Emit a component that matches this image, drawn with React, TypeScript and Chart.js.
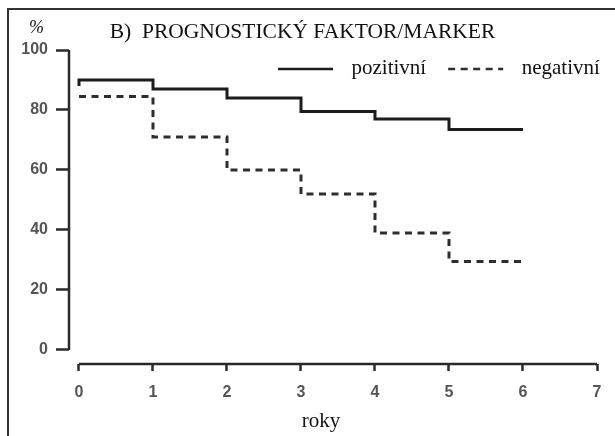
import React, { useEffect, useRef } from "react";
import { Chart, registerables } from "chart.js";

Chart.register(...registerables);

// ---- data ----
const positiveYears = [0, 0, 1, 2, 3, 4, 5, 6];
const positiveValues = [88, 90, 87, 84, 79.5, 77, 73.5, 73.5];
const negativeYears = [0, 1, 2, 3, 4, 5, 6];
const negativeValues = [84.5, 71, 60, 52, 39, 29.5, 29.5];
const xTickValues = [0, 1, 2, 3, 4, 5, 6, 7];
const yTickValues = [0, 20, 40, 60, 80, 100];
const seriesLabels = ["pozitivní", "negativní"];
const titleText = "B)  PROGNOSTICKÝ FAKTOR/MARKER";
const xAxisTitle = "roky";
const yAxisTitle = "%";

const SERIF = '"Liberation Serif", "Times New Roman", serif';
const SANS = '"Liberation Sans", Arial, sans-serif';

const axesPlugin = {
  id: "axesLines",
  afterDraw(chart: any) {
    const { ctx, chartArea } = chart;
    const xs = chart.scales.x;
    const ys = chart.scales.y;
    ctx.save();
    ctx.strokeStyle = "#2a2a2a";
    ctx.lineWidth = 2.5;
    ctx.beginPath();
    ctx.moveTo(chartArea.left, ys.getPixelForValue(yTickValues[0]));
    ctx.lineTo(chartArea.left, ys.getPixelForValue(yTickValues[yTickValues.length - 1]));
    ctx.stroke();
    ctx.beginPath();
    ctx.moveTo(xs.getPixelForValue(xTickValues[0]), chartArea.bottom);
    ctx.lineTo(xs.getPixelForValue(xTickValues[xTickValues.length - 1]), chartArea.bottom);
    ctx.stroke();
    ctx.restore();
  },
};

const textPlugin = {
  id: "extraText",
  afterDraw(chart: any) {
    const { ctx } = chart;
    ctx.save();
    ctx.fillStyle = "#111";
    // y axis unit
    ctx.font = `italic 18px ${SERIF}`;
    ctx.textBaseline = "alphabetic";
    ctx.textAlign = "left";
    ctx.fillText(yAxisTitle, 29, 33);
    // x axis title
    ctx.font = `21px ${SERIF}`;
    ctx.textAlign = "center";
    ctx.fillText(xAxisTitle, 321, 427);
    // legend
    ctx.textAlign = "left";
    let x = 278;
    const lineLen = 55;
    chart.data.datasets.forEach((ds: any) => {
      ctx.save();
      ctx.strokeStyle = ds.borderColor;
      ctx.lineWidth = 2.5;
      ctx.setLineDash(ds.borderDash || []);
      ctx.beginPath();
      ctx.moveTo(x, 69);
      ctx.lineTo(x + lineLen, 69);
      ctx.stroke();
      ctx.restore();
      const tx = x + lineLen + 18.5;
      ctx.fillText(ds.label, tx, 74);
      x = tx + ctx.measureText(ds.label).width + 22;
    });
    ctx.restore();
  },
};

export default function App() {
  const canvasRef = useRef<HTMLCanvasElement | null>(null);

  useEffect(() => {
    if (!canvasRef.current) return;
    const chart = new Chart(canvasRef.current, {
      type: "line",
      data: {
        datasets: [
          {
            label: seriesLabels[0],
            data: positiveYears.map((x, i) => ({ x, y: positiveValues[i] })),
            borderColor: "#1c1c1c",
            borderWidth: 3,
            stepped: true,
            pointRadius: 0,
            fill: false,
          },
          {
            label: seriesLabels[1],
            data: negativeYears.map((x, i) => ({ x, y: negativeValues[i] })),
            borderColor: "#2e2e2e",
            borderWidth: 3,
            borderDash: [7, 5.5],
            stepped: true,
            pointRadius: 0,
            fill: false,
          },
        ],
      },
      options: {
        animation: false,
        responsive: false,
        layout: { padding: { left: 8, right: 18, top: 0, bottom: 0 } },
        plugins: {
          legend: { display: false },
          tooltip: { enabled: false },
          title: {
            display: true,
            text: titleText,
            color: "#111",
            font: { family: SERIF, size: 21.5, weight: "normal" },
            padding: { top: 19.5, bottom: 4.7 },
          },
        },
        scales: {
          x: {
            type: "linear",
            min: -0.135,
            max: 7,
            border: { display: false },
            grid: {
              display: true,
              drawOnChartArea: false,
              drawTicks: true,
              tickLength: 7,
              tickWidth: 2.5,
              tickColor: "#2a2a2a",
            },
            afterBuildTicks: (scale: any) => {
              scale.ticks = xTickValues.map((v) => ({ value: v }));
            },
            afterFit: (scale: any) => {
              scale.height = 72;
            },
            ticks: {
              color: "#555",
              padding: 12,
              font: { family: SANS, size: 16, weight: "bold" },
              maxRotation: 0,
              autoSkip: false,
            },
          },
          y: {
            type: "linear",
            min: -4.667,
            max: 100,
            border: { display: false },
            grid: {
              display: true,
              drawOnChartArea: false,
              drawTicks: true,
              tickLength: 13,
              tickWidth: 2.5,
              tickColor: "#2a2a2a",
            },
            afterBuildTicks: (scale: any) => {
              scale.ticks = yTickValues.map((v) => ({ value: v }));
            },
            afterFit: (scale: any) => {
              scale.width = 61;
            },
            ticks: {
              color: "#555",
              padding: 8,
              font: { family: SANS, size: 16, weight: "bold" },
              autoSkip: false,
            },
          },
        },
      },
      plugins: [axesPlugin, textPlugin],
    });
    return () => chart.destroy();
  }, []);

  return (
    <div
      style={{
        position: "fixed",
        left: 0,
        top: 0,
        width: 615,
        height: 436,
        overflow: "hidden",
        background: "#fff",
      }}
    >
      <div
        style={{
          position: "absolute",
          left: 7,
          top: 8,
          width: 700,
          height: 600,
          borderLeft: "2px solid #333",
          borderTop: "2px solid #333",
        }}
      />
      <canvas
        ref={canvasRef}
        width={615}
        height={436}
        style={{ position: "absolute", left: 0, top: 0, display: "block" }}
      />
    </div>
  );
}
